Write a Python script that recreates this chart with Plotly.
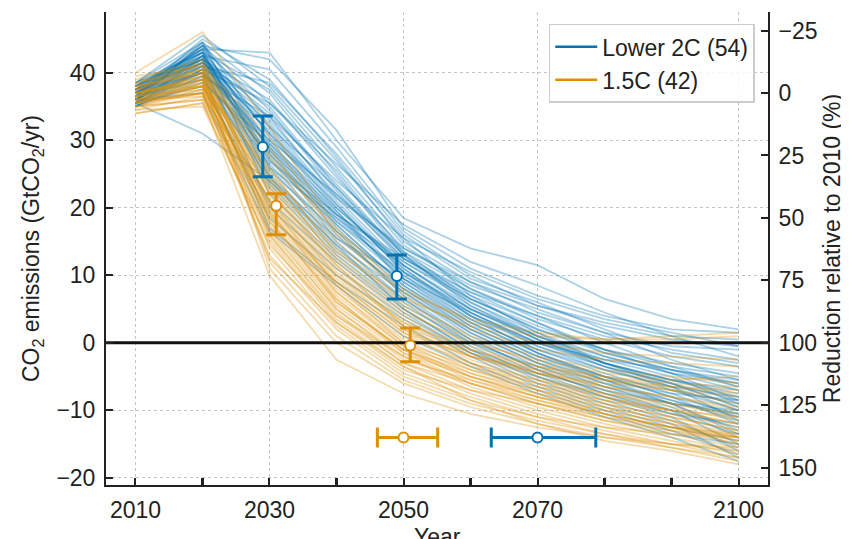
import plotly.graph_objects as go

YEARS = [2010, 2020, 2030, 2040, 2050, 2060, 2070, 2080, 2090, 2100]

# Lower 2C scenarios (GtCO2/yr)
BLUE_LINES = [
    [37.5, 43.5, 43.0, 30.0, 18.5, 14.0, 11.5, 6.5, 3.5, 2.0],
    [36.0, 44.0, 42.0, 31.5, 17.0, 11.0, 7.0, 4.0, 2.0, 1.5],
    [38.0, 42.5, 40.5, 29.0, 16.5, 10.0, 5.5, 2.5, 0.5, -0.5],
    [36.5, 45.0, 39.0, 27.5, 15.0, 9.0, 4.5, 1.5, -0.5, -1.0],
    [35.5, 41.0, 38.5, 28.0, 16.0, 9.5, 6.0, 2.0, -1.5, -3.0],
    [37.0, 43.0, 37.5, 26.0, 14.5, 8.0, 3.5, 0.5, -2.0, -3.5],
    [38.5, 44.5, 37.0, 25.0, 13.0, 7.5, 4.0, 1.0, -1.0, -2.5],
    [36.0, 42.0, 36.0, 24.5, 14.0, 8.5, 5.0, 1.5, -2.5, -5.5],
    [35.0, 40.5, 35.5, 25.5, 13.5, 6.5, 2.0, -1.0, -3.0, -4.5],
    [37.5, 41.5, 35.0, 23.0, 12.5, 7.0, 3.0, -1.5, -4.0, -6.5],
    [36.5, 43.5, 34.5, 22.5, 12.0, 6.0, 1.5, -2.0, -4.5, -6.0],
    [38.0, 42.0, 34.0, 23.5, 13.0, 5.5, 0.5, -3.0, -5.5, -8.0],
    [35.5, 39.5, 33.5, 21.5, 11.5, 5.0, 1.0, -2.5, -5.0, -9.0],
    [37.0, 44.0, 33.0, 22.0, 12.5, 6.5, 2.5, -1.0, -3.5, -5.0],
    [36.0, 41.5, 32.5, 21.0, 11.0, 4.5, 0.0, -3.5, -6.0, -8.5],
    [38.5, 43.0, 32.0, 20.5, 10.5, 4.0, -0.5, -4.0, -6.5, -10.0],
    [36.5, 40.0, 31.5, 20.0, 11.5, 5.5, 1.0, -2.0, -4.5, -7.0],
    [35.0, 42.5, 31.0, 19.5, 10.0, 3.5, -1.0, -4.5, -7.5, -11.0],
    [37.5, 44.5, 30.5, 20.5, 10.5, 5.0, 0.5, -3.0, -5.5, -7.5],
    [36.0, 41.0, 30.0, 19.0, 9.5, 3.0, -1.5, -5.0, -8.0, -12.0],
    [38.0, 43.5, 29.5, 18.5, 10.0, 4.0, 0.0, -2.5, -4.0, -5.5],
    [35.5, 40.5, 29.0, 19.5, 9.0, 2.5, -2.0, -5.5, -8.5, -11.5],
    [37.0, 42.0, 29.0, 18.0, 10.5, 4.5, -0.5, -3.5, -6.0, -9.5],
    [36.5, 44.0, 28.5, 17.5, 8.5, 2.0, -2.5, -6.0, -9.0, -13.0],
    [37.5, 41.5, 28.0, 18.0, 9.5, 3.5, -1.0, -4.0, -6.5, -8.0],
    [35.0, 39.0, 28.0, 17.0, 8.0, 1.5, -3.0, -6.5, -9.5, -14.0],
    [38.0, 43.0, 27.5, 16.5, 9.0, 3.0, -1.5, -5.0, -7.0, -9.0],
    [36.0, 42.5, 27.0, 17.5, 8.5, 2.5, -2.0, -5.0, -8.0, -10.5],
    [37.0, 40.0, 26.5, 16.0, 7.5, 1.0, -3.5, -7.0, -10.0, -15.0],
    [35.5, 44.5, 26.0, 15.5, 8.0, 2.0, -2.5, -5.5, -7.5, -8.5],
    [38.5, 42.0, 25.5, 16.5, 7.0, 0.5, -4.0, -7.5, -10.5, -13.5],
    [36.5, 41.0, 25.0, 15.0, 6.5, 0.0, -4.5, -8.0, -11.0, -16.0],
    [37.5, 43.5, 24.5, 14.5, 7.5, 1.5, -3.0, -6.0, -8.5, -11.0],
    [35.0, 39.5, 24.0, 14.0, 6.5, 0.5, -4.0, -7.5, -10.0, -12.5],
    [37.0, 42.0, 23.5, 13.5, 6.0, -0.5, -5.0, -8.5, -11.5, -15.5],
    [36.0, 40.5, 23.0, 13.0, 5.5, 0.0, -3.5, -6.5, -9.0, -10.0],
    [38.0, 43.0, 22.0, 12.5, 5.0, -1.0, -5.5, -9.0, -12.0, -17.0],
    [35.5, 38.0, 21.0, 12.0, 4.5, -1.5, -5.0, -8.0, -10.5, -12.0],
    [37.0, 41.5, 20.0, 11.0, 4.0, -1.5, -6.0, -9.5, -12.5, -14.5],
    [35.5, 31.0, 24.0, 14.5, 5.0, -1.0, -4.5, -7.0, -9.0, -10.5],
    [36.5, 39.0, 18.5, 10.0, 3.5, -2.0, -6.5, -10.0, -13.0, -16.5],
    [37.5, 40.0, 17.0, 9.0, 2.5, -3.0, -7.0, -10.5, -13.5, -15.0],
    [36.0, 37.0, 16.5, 8.5, 1.0, -3.5, -7.5, -11.0, -14.0, -17.5],
    [37.0, 42.5, 31.0, 21.5, 14.0, 9.0, 5.5, 3.0, 1.0, 0.5],
    [36.0, 41.5, 33.5, 24.0, 15.5, 10.5, 6.5, 3.5, 1.5, -0.5],
    [38.0, 44.0, 35.5, 26.5, 17.5, 12.0, 8.5, 4.5, 1.0, -2.0],
    [35.5, 40.0, 30.0, 22.0, 13.5, 8.0, 4.0, 0.0, -3.5, -6.5],
    [37.5, 42.0, 27.0, 19.0, 12.0, 6.5, 2.0, -1.5, -4.0, -6.0],
    [36.5, 43.0, 26.0, 18.5, 11.5, 5.0, 0.5, -3.5, -7.0, -10.0],
    [37.0, 41.0, 32.0, 23.0, 13.0, 6.0, 1.0, -3.0, -6.0, -9.5],
    [35.0, 38.5, 29.5, 20.0, 11.0, 4.0, -1.5, -5.5, -9.0, -13.5],
    [38.5, 45.5, 38.0, 27.0, 15.5, 7.0, 1.5, -3.0, -6.5, -11.5],
    [36.0, 40.0, 24.5, 15.5, 9.5, 4.5, 0.0, -3.0, -5.5, -7.0],
    [37.5, 42.5, 28.5, 19.0, 12.5, 7.5, 3.0, -1.0, -4.5, -8.5],
]

# 1.5C scenarios (GtCO2/yr)
ORANGE_LINES = [
    [40.0, 46.0, 32.0, 17.0, 8.0, 3.0, 1.0, 0.5, 1.0, 1.5],
    [39.5, 41.0, 30.5, 16.0, 7.0, 2.0, -1.0, -2.5, -3.0, -3.5],
    [38.5, 40.5, 29.0, 15.0, 6.0, 1.0, -2.0, -4.0, -5.0, -6.0],
    [37.0, 39.5, 27.5, 14.0, 5.5, 0.5, -3.0, -5.0, -6.5, -7.5],
    [36.5, 40.0, 26.0, 13.0, 5.0, -0.5, -3.5, -5.5, -7.0, -9.0],
    [35.5, 38.5, 25.0, 12.0, 4.0, -1.0, -4.0, -6.5, -8.0, -10.0],
    [36.0, 38.0, 24.0, 11.5, 3.5, -1.5, -4.5, -7.0, -9.0, -11.0],
    [37.5, 41.5, 23.5, 11.0, 3.0, -2.0, -5.0, -7.5, -9.5, -11.5],
    [35.0, 37.5, 23.0, 10.5, 2.5, -2.5, -5.5, -8.0, -10.0, -12.0],
    [38.0, 40.0, 22.5, 10.0, 2.0, -3.0, -6.0, -8.5, -10.5, -12.5],
    [36.0, 39.0, 22.0, 9.5, 2.0, -2.0, -4.5, -6.0, -7.0, -8.0],
    [34.5, 36.5, 21.5, 9.0, 1.5, -3.5, -6.5, -9.0, -11.0, -13.0],
    [37.0, 39.5, 21.0, 8.5, 1.0, -3.0, -5.5, -7.5, -9.0, -10.5],
    [35.5, 37.0, 20.5, 8.0, 0.5, -4.0, -7.0, -9.5, -11.5, -13.5],
    [38.5, 41.0, 20.5, 8.5, 0.0, -4.5, -7.5, -10.0, -12.0, -14.0],
    [36.5, 38.0, 20.0, 7.5, 0.0, -3.5, -6.0, -8.0, -10.0, -12.0],
    [35.0, 36.0, 19.5, 7.0, -0.5, -5.0, -8.0, -10.5, -12.5, -14.5],
    [37.5, 40.5, 19.5, 7.5, -0.5, -4.0, -6.5, -8.5, -10.0, -11.0],
    [36.0, 38.5, 19.0, 6.5, -1.0, -5.5, -8.5, -11.0, -13.0, -15.0],
    [34.0, 35.5, 18.5, 6.0, -1.0, -4.5, -7.0, -9.0, -11.0, -13.0],
    [37.0, 39.0, 18.0, 6.5, -1.5, -6.0, -9.0, -11.5, -13.5, -15.5],
    [35.5, 37.5, 17.5, 5.5, -1.5, -5.0, -7.5, -9.5, -11.5, -14.0],
    [38.0, 40.0, 17.0, 5.0, -2.0, -6.5, -9.5, -12.0, -14.0, -16.0],
    [36.5, 39.5, 16.5, 5.0, -2.5, -5.5, -8.0, -10.0, -12.0, -14.5],
    [35.0, 37.0, 16.0, 4.5, -3.0, -7.0, -10.0, -12.5, -14.5, -16.5],
    [37.5, 38.0, 16.0, 4.0, -3.0, -6.0, -8.5, -10.5, -12.5, -15.0],
    [36.0, 36.5, 15.5, 3.5, -3.5, -7.5, -10.5, -13.0, -15.0, -17.0],
    [34.5, 35.0, 15.0, 3.0, -4.0, -7.0, -9.0, -11.0, -12.5, -13.5],
    [37.0, 38.5, 14.0, 2.5, -4.5, -8.0, -11.0, -13.5, -15.5, -17.5],
    [35.5, 37.0, 13.0, 2.0, -5.0, -8.5, -11.0, -12.5, -13.5, -14.0],
    [36.5, 39.0, 12.0, 1.0, -5.5, -9.0, -11.5, -13.5, -15.0, -16.0],
    [38.0, 40.5, 11.0, 0.0, -6.0, -9.5, -12.0, -14.0, -15.5, -17.0],
    [35.0, 36.0, 10.0, -2.5, -7.5, -10.5, -12.5, -14.0, -15.0, -15.5],
    [36.0, 38.0, 25.5, 13.5, 6.5, 2.5, 0.0, -1.5, -2.0, -2.5],
    [37.5, 40.0, 28.0, 16.5, 7.5, 3.5, 1.5, 0.5, 0.5, 1.0],
    [39.0, 42.0, 24.5, 12.5, 4.5, 0.0, -2.5, -4.5, -5.5, -5.0],
    [35.5, 38.0, 21.0, 10.0, 3.0, -1.0, -3.5, -5.0, -6.0, -6.5],
    [36.5, 37.5, 19.0, 9.0, 1.5, -2.0, -4.0, -5.5, -6.5, -7.0],
    [37.0, 39.0, 22.5, 11.5, 2.5, -1.5, -4.5, -6.5, -8.0, -9.5],
    [34.0, 35.5, 14.5, 4.0, -2.0, -6.0, -9.0, -11.5, -13.0, -14.0],
    [38.5, 41.5, 18.0, 6.0, -1.0, -5.0, -8.0, -10.5, -12.5, -14.0],
    [36.0, 37.0, 12.5, 3.0, -3.5, -8.5, -12.0, -14.5, -16.0, -18.0],
]

# Summary markers: median with range, at 2030 and 2050
STAT_YEARS = [2030, 2050]
BLUE_MED = [29.0, 9.9]
BLUE_HI = [33.6, 13.0]
BLUE_LO = [24.6, 6.5]
ORANGE_MED = [20.3, -0.4]
ORANGE_HI = [22.1, 2.2]
ORANGE_LO = [16.0, -2.8]

# Net-zero year (low, median, high)
NZ_LEVEL = -14.0
BLUE_NZ = [2063.1, 2070.0, 2078.7]
ORANGE_NZ = [2046.1, 2050.0, 2055.1]

REF_2010 = 37.0  # baseline for % reduction axis

BLUE = "#0173b2"
ORANGE = "#de8f05"
BLUE_A = "rgba(1,115,178,0.33)"
ORANGE_A = "rgba(222,143,5,0.33)"
DODGE = 1.0
X_RANGE = [2005.6, 2104.4]
Y_RANGE = [-21.05, 49.0]
FONT = "Liberation Sans, Arial, Helvetica, sans-serif"
INK = "#222222"
GRID = "#c4c4c4"
FS = 23

fig = go.Figure()

for ln in BLUE_LINES:
    fig.add_trace(go.Scatter(x=YEARS, y=ln, mode="lines",
                             line=dict(color=BLUE_A, width=1.8),
                             showlegend=False, hoverinfo="skip"))
for ln in ORANGE_LINES:
    fig.add_trace(go.Scatter(x=YEARS, y=ln, mode="lines",
                             line=dict(color=ORANGE_A, width=1.8),
                             showlegend=False, hoverinfo="skip"))

# zero line
fig.add_trace(go.Scatter(x=X_RANGE, y=[0, 0], mode="lines",
                         line=dict(color="#111111", width=3),
                         showlegend=False, hoverinfo="skip"))


def marker_style(c):
    return dict(symbol="circle", size=10, color="white",
                line=dict(color=c, width=2))


fig.add_trace(go.Scatter(
    x=[y - DODGE for y in STAT_YEARS], y=BLUE_MED, mode="markers",
    marker=marker_style(BLUE), showlegend=False,
    error_y=dict(type="data", symmetric=False,
                 array=[h - m for h, m in zip(BLUE_HI, BLUE_MED)],
                 arrayminus=[m - l for l, m in zip(BLUE_LO, BLUE_MED)],
                 color=BLUE, thickness=3, width=10)))
fig.add_trace(go.Scatter(
    x=[y + DODGE for y in STAT_YEARS], y=ORANGE_MED, mode="markers",
    marker=marker_style(ORANGE), showlegend=False,
    error_y=dict(type="data", symmetric=False,
                 array=[h - m for h, m in zip(ORANGE_HI, ORANGE_MED)],
                 arrayminus=[m - l for l, m in zip(ORANGE_LO, ORANGE_MED)],
                 color=ORANGE, thickness=3, width=10)))

for nz, c in ((ORANGE_NZ, ORANGE), (BLUE_NZ, BLUE)):
    fig.add_trace(go.Scatter(
        x=[nz[1]], y=[NZ_LEVEL], mode="markers", marker=marker_style(c),
        showlegend=False,
        error_x=dict(type="data", symmetric=False, array=[nz[2] - nz[1]],
                     arrayminus=[nz[1] - nz[0]], color=c, thickness=3, width=10)))

# legend proxies
fig.add_trace(go.Scatter(x=[None], y=[None], mode="lines",
                         line=dict(color=BLUE, width=2.5),
                         name=f"Lower 2C ({len(BLUE_LINES)})"))
fig.add_trace(go.Scatter(x=[None], y=[None], mode="lines",
                         line=dict(color=ORANGE, width=2.5),
                         name=f"1.5C ({len(ORANGE_LINES)})"))

# invisible anchor for the right axis
fig.add_trace(go.Scatter(x=[YEARS[0]], y=[0], yaxis="y2", mode="markers",
                         marker=dict(opacity=0), showlegend=False,
                         hoverinfo="skip"))


def pct(v):
    return (REF_2010 - v) / REF_2010 * 100


axis_common = dict(showline=True, linecolor=INK, linewidth=2, ticks="inside",
                   ticklen=7, tickwidth=1.5, tickcolor=INK, zeroline=False,
                   automargin=False, tickfont=dict(size=FS, color=INK))

fig.update_layout(
    width=841, height=531, template="none",
    margin=dict(l=98, r=81, t=4, b=54),
    plot_bgcolor="white", paper_bgcolor="white",
    font=dict(family=FONT, size=FS, color=INK),
    xaxis=dict(range=X_RANGE, tickvals=[2010, 2030, 2050, 2070, 2100],
               showgrid=True, gridcolor=GRID, griddash="dot", gridwidth=1,
               minor=dict(tickvals=[2020, 2040, 2060, 2080, 2090],
                          ticks="inside", ticklen=7, tickwidth=3,
                          tickcolor=INK, showgrid=False),
               ticklabelstandoff=3,
               **axis_common),
    yaxis=dict(range=Y_RANGE, tickvals=[-20, -10, 0, 10, 20, 30, 40],
               showgrid=True, gridcolor=GRID, griddash="dot", gridwidth=1,
               ticklabelstandoff=4,
               title=dict(text="CO<sub>2</sub> emissions (GtCO<sub>2</sub>/yr)",
                          standoff=10, font=dict(size=FS)),
               **axis_common),
    yaxis2=dict(overlaying="y", side="right",
                range=[pct(Y_RANGE[0]), pct(Y_RANGE[1])],
                tickvals=[-25, 0, 25, 50, 75, 100, 125, 150], showgrid=False,
                ticklabelstandoff=4,
                title=dict(text="Reduction relative to 2010 (%)", standoff=7,
                           font=dict(size=FS)),
                **axis_common),
    legend=dict(x=0.98, y=0.975, xanchor="right", yanchor="top",
                itemwidth=42, tracegroupgap=0,
                bgcolor="rgba(255,255,255,0.85)", bordercolor="#cccccc",
                borderwidth=1.5, font=dict(size=FS, color=INK)),
    annotations=[dict(text="Year", xref="paper", yref="paper", x=0.5,
                      y=-0.078, xanchor="center", yanchor="top",
                      showarrow=False, font=dict(size=FS, color=INK))],
    showlegend=True,
)

fig.write_html("out.html")
